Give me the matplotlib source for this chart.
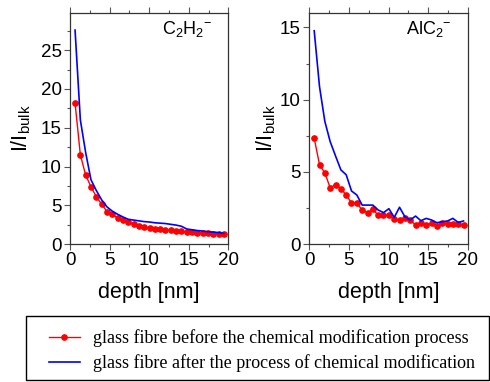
import matplotlib.pyplot as plt
from matplotlib.patches import Rectangle
from matplotlib.ticker import MultipleLocator

# depth positions of the sputter profile points [nm]
depth = [0.63, 1.30, 1.97, 2.64, 3.32, 3.99, 4.66, 5.33, 6.00, 6.68,
         7.35, 8.02, 8.69, 9.36, 10.04, 10.71, 11.38, 12.05, 12.72, 13.40,
         14.07, 14.74, 15.41, 16.08, 16.76, 17.43, 18.10, 18.77, 19.44]

# C2H2- : before / after modification
c2h2_before = [18.2, 11.5, 8.9, 7.4, 6.1, 5.15, 4.2, 3.82, 3.39, 3.09,
               2.79, 2.58, 2.36, 2.19, 2.1, 1.93, 1.89, 1.8, 1.76, 1.68,
               1.63, 1.55, 1.5, 1.46, 1.42, 1.37, 1.33, 1.29, 1.25]
c2h2_after = [27.6, 16.0, 11.8, 8.3, 6.9, 5.7, 4.8, 4.25, 3.85, 3.5,
              3.2, 3.1, 3.0, 2.9, 2.85, 2.75, 2.7, 2.65, 2.55, 2.45,
              2.3, 1.95, 1.85, 1.75, 1.68, 1.6, 1.55, 1.48, 1.38]

# AlC2- : before / after modification
alc2_before = [7.33, 5.5, 4.93, 3.9, 4.12, 3.84, 3.4, 2.85, 2.85, 2.34,
               2.18, 2.4, 2.0, 2.0, 2.0, 1.76, 1.64, 1.83, 1.64, 1.34,
               1.48, 1.32, 1.43, 1.27, 1.48, 1.41, 1.39, 1.41, 1.32]
alc2_after = [14.77, 10.9, 8.5, 7.1, 6.1, 5.14, 4.8, 3.68, 3.4, 2.7,
              2.7, 2.7, 2.36, 2.18, 2.45, 1.85, 2.55, 1.9, 1.67, 1.94,
              1.62, 1.78, 1.67, 1.48, 1.55, 1.6, 1.78, 1.5, 1.6]

labels = ["glass fibre before the chemical modification process",
          "glass fibre after the process of chemical modification"]

plt.rcParams['font.family'] = ['Liberation Sans', 'DejaVu Sans']
plt.rcParams['mathtext.fontset'] = 'custom'
plt.rcParams['mathtext.rm'] = 'Liberation Sans'
plt.rcParams['mathtext.it'] = 'Liberation Sans'

fig = plt.figure(figsize=(4.9, 3.82), dpi=100)
ax1 = fig.add_axes([0.143, 0.361, 0.323, 0.605])
ax2 = fig.add_axes([0.631, 0.361, 0.324, 0.605])


def style_axis(ax, ymax, name, label_x):
    ax.set_xlim(0, 20)
    ax.set_ylim(0, ymax)
    ax.xaxis.set_major_locator(MultipleLocator(5))
    ax.xaxis.set_minor_locator(MultipleLocator(2.5))
    ax.yaxis.set_major_locator(MultipleLocator(5))
    ax.yaxis.set_minor_locator(MultipleLocator(2.5))
    ax.tick_params(which='both', direction='out', top=True, right=False,
                   labelsize=13.5, width=0.8, color='#555555', pad=2)
    ax.tick_params(which='major', length=4)
    ax.tick_params(which='minor', length=2.5)
    for s in ax.spines.values():
        s.set_linewidth(0.9)
        s.set_color('#333333')
    ax.set_xlabel('depth [nm]', fontsize=15.5, labelpad=9)
    ax.set_ylabel(r'I/I$_{\mathregular{bulk}}$', fontsize=15.5)
    ax.yaxis.set_label_coords(label_x, 0.5)
    ax.text(0.9, 0.93, name, transform=ax.transAxes, ha='right',
            va='center', fontsize=13)


ax1.plot(depth, c2h2_before, color='red', lw=1.0, marker='o', ms=3.8)
ax1.plot(depth, c2h2_after, color='blue', lw=1.2)
style_axis(ax1, 29.8, r'C$_2$H$_2$$^{-}$', -0.235)

l1, = ax2.plot(depth, alc2_before, color='red', lw=1.0, marker='o', ms=3.8)
l2, = ax2.plot(depth, alc2_after, color='blue', lw=1.2)
style_axis(ax2, 16.0, r'AlC$_2$$^{-}$', -0.195)

# legend frame drawn separately so the text can run close to the right edge
fig.patches.append(Rectangle((26 / 490, 2 / 382), 463 / 490, 64 / 382,
                             transform=fig.transFigure, fill=False,
                             edgecolor='black', linewidth=1.0))
fig.legend([l1, l2], labels, loc='center left',
           bbox_to_anchor=(49 / 490, 1 - 350.5 / 382),
           borderaxespad=0, borderpad=0, frameon=False,
           handlelength=1.7, handletextpad=0.75, labelspacing=0.4,
           prop={'family': 'Liberation Serif', 'size': 13})

plt.savefig('out.png', dpi=100)
